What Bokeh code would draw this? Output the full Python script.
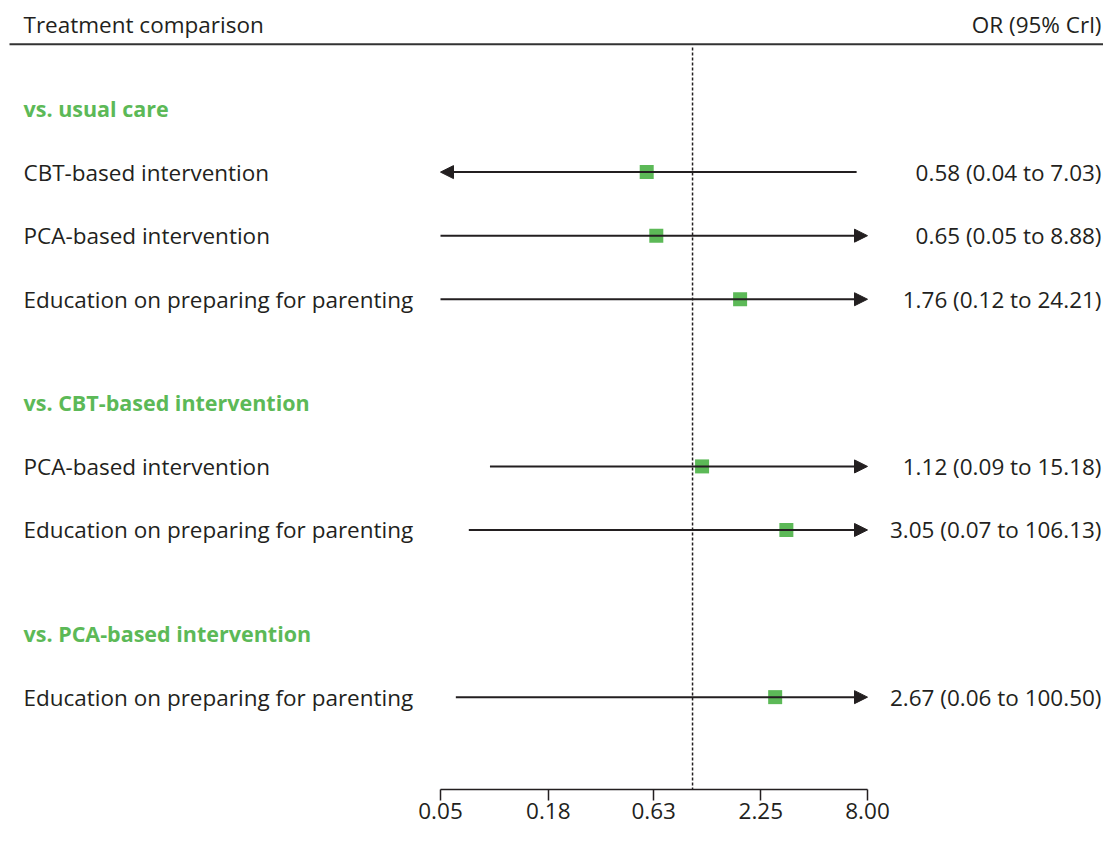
import math
from bokeh.plotting import figure
from bokeh.models import Range1d, FixedTicker, PrintfTickFormatter, Arrow, NormalHead, ColumnDataSource
from bokeh.core.properties import value
from bokeh.embed import file_html
from bokeh.resources import INLINE

# ---------------- data ----------------
groups = ["vs. usual care", "vs. CBT-based intervention", "vs. PCA-based intervention"]
group_sizes = [3, 2, 1]
treatments = [
    "CBT-based intervention",
    "PCA-based intervention",
    "Education on preparing for parenting",
    "PCA-based intervention",
    "Education on preparing for parenting",
    "Education on preparing for parenting",
]
or_est = [0.58, 0.65, 1.76, 1.12, 3.05, 2.67]
ci_low = [0.04, 0.05, 0.12, 0.09, 0.07, 0.06]
ci_high = [7.03, 8.88, 24.21, 15.18, 106.13, 100.50]
ci_low_drawn = [0.04, 0.05, 0.05, 0.09, 0.07, 0.06]   # lower ends as drawn in the figure
tick_values = [0.05, 0.18, 0.63, 2.25, 8.00]
header_left = "Treatment comparison"
header_right = "OR (95% Crl)"

# ---------------- style / layout ----------------
DARK = "#231f20"
GREEN = "#5cb957"
FONT = "Open Sans"
FS = "22.5px"
FS_BOLD = "21.5px"
W, H = 1103, 829
AX_L, AX_R = 440, 867          # canvas px of axis ends
LEFT_X = 23
RIGHT_X = W - 2
vmin, vmax = tick_values[0], tick_values[-1]
b = (math.log10(vmax) - math.log10(vmin)) / (AX_R - AX_L)
x_lo = math.log10(vmin) - AX_L * b
x_hi = math.log10(vmin) + (W - AX_L) * b


def sx(c):
    return 10 ** (x_lo + c * b)


# vertical slot positions
GAP = 1.63
header_ys, row_ys = [], []
y = 0.0
for gsize in group_sizes:
    header_ys.append(y)
    for k in range(gsize):
        row_ys.append(y + 1 + k)
    y = y + gsize + GAP
Y_TOP, Y_BOT = -1.70, 10.713
HEAD_TEXT_Y, HEAD_LINE_Y = -1.32, -1.01

p = figure(
    width=W, height=H,
    x_axis_type="log",
    x_range=Range1d(10 ** x_lo, 10 ** x_hi),
    y_range=Range1d(Y_BOT, Y_TOP),
    y_axis_location=None,
    toolbar_location=None,
    output_backend="svg",
    min_border_left=0, min_border_right=0, min_border_top=0, min_border_bottom=40,
)
p.outline_line_color = None
p.xgrid.visible = False
p.ygrid.visible = False
p.background_fill_color = "white"
p.border_fill_color = "white"

ax = p.xaxis[0]
ax.ticker = FixedTicker(ticks=tick_values, minor_ticks=[])
ax.formatter = PrintfTickFormatter(format="%.2f")
ax.bounds = (vmin, vmax)
ax.axis_line_color = DARK
ax.axis_line_width = 1.5
ax.major_tick_line_color = DARK
ax.major_tick_line_width = 1.5
ax.major_tick_in = 0
ax.major_tick_out = 11
ax.minor_tick_line_color = None
ax.major_label_standoff = 2
ax.major_label_text_font = FONT
ax.major_label_text_font_size = FS
ax.major_label_text_color = DARK

# header
p.segment(x0=[sx(9)], x1=[sx(W)], y0=[HEAD_LINE_Y], y1=[HEAD_LINE_Y], line_color="#333333", line_width=2)
p.text(x=[sx(LEFT_X)], y=[HEAD_TEXT_Y], text=[header_left], text_font=value(FONT), text_font_size=FS,
       text_color=DARK, text_baseline="middle", text_align="left")
p.text(x=[sx(RIGHT_X)], y=[HEAD_TEXT_Y], text=[header_right], text_font=value(FONT), text_font_size=FS,
       text_color=DARK, text_baseline="middle", text_align="right")

# reference line at OR = 1
p.segment(x0=[1], x1=[1], y0=[HEAD_LINE_Y + 0.05], y1=[Y_BOT], line_color=DARK, line_width=1.5,
          line_dash="3 2")

# group headers
p.text(x=[sx(LEFT_X)] * len(groups), y=header_ys, text=groups, text_font=value(FONT), text_font_size=FS_BOLD,
       text_font_style="bold", text_color=GREEN, text_baseline="middle", text_align="left")

# row labels
p.text(x=[sx(LEFT_X)] * len(treatments), y=row_ys, text=treatments, text_font=value(FONT), text_font_size=FS,
       text_color=DARK, text_baseline="middle", text_align="left")

labels = [f"{e:.2f} ({l:.2f} to {h:.2f})" for e, l, h in zip(or_est, ci_low, ci_high)]
p.text(x=[sx(RIGHT_X)] * len(labels), y=row_ys, text=labels, text_font=value(FONT), text_font_size=FS,
       text_color=DARK, text_baseline="middle", text_align="right")

# CI lines
arr = dict(xs=[], xe=[], y=[])
seg = dict(x0=[], x1=[], y=[])
for lo, hi, yy in zip(ci_low_drawn, ci_high, row_ys):
    lo_c, hi_c = max(lo, vmin), min(hi, vmax)
    if hi > vmax:
        arr["xs"].append(lo_c); arr["xe"].append(vmax); arr["y"].append(yy)
    elif lo < vmin:
        arr["xs"].append(hi_c); arr["xe"].append(vmin); arr["y"].append(yy)
    else:
        seg["x0"].append(lo_c); seg["x1"].append(hi_c); seg["y"].append(yy)

if seg["x0"]:
    p.segment(x0="x0", x1="x1", y0="y", y1="y", source=ColumnDataSource(seg), line_color=DARK, line_width=2)
p.add_layout(Arrow(
    end=NormalHead(size=13, fill_color=DARK, line_color=DARK, line_width=1),
    x_start="xs", x_end="xe", y_start="y", y_end="y",
    source=ColumnDataSource(arr), line_color=DARK, line_width=2,
))

# point estimates
p.scatter(x=or_est, y=row_ys, marker="square", size=14, fill_color=GREEN, line_color=None)

open("out.html", "w").write(file_html(p, INLINE))
